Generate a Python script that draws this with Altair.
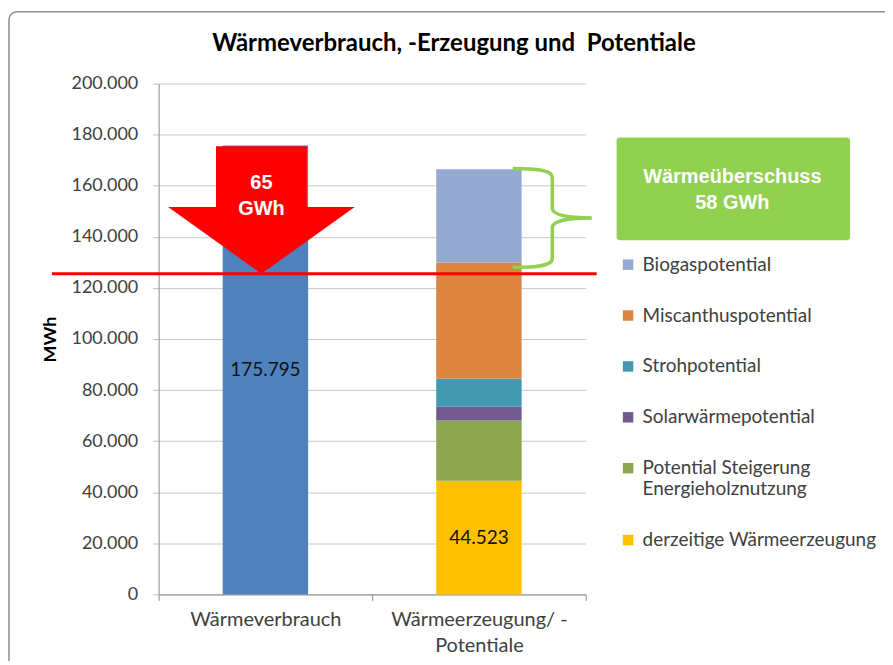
import altair as alt
import pandas as pd

# ---------------- data ----------------
categories = ["Wärmeverbrauch", "Wärmeerzeugung/ -\nPotentiale"]
consumption_value = [175795]
consumption_color = "#4F81BD"

# stacked series, bottom -> top
series_names = [
    "derzeitige Wärmeerzeugung",
    "Potential Steigerung Energieholznutzung",
    "Solarwärmepotential",
    "Strohpotential",
    "Miscanthuspotential",
    "Biogaspotential",
]
series_values = [44523, 23600, 5300, 11100, 45400, 36500]
series_colors = ["#FFC000", "#8BA64F", "#72598F", "#4299B0", "#DC853E", "#95AAD1"]

y_ticks = [0, 20000, 40000, 60000, 80000, 100000, 120000, 140000, 160000, 180000, 200000]

# annotations (in data units)
red_line_value = [125500]
arrow_center = [150500]
arrow_text_top = [161000]
arrow_text = ["65\nGWh"]
surplus_text = ["Wärmeüberschuss\n58 GWh"]
chart_title = "Wärmeverbrauch, -Erzeugung und\u00a0 Potentiale"

# ---------------- tables ----------------
stack_df = pd.DataFrame({
    "cat": [categories[1]] * len(series_names),
    "series": series_names,
    "value": series_values,
    "order": list(range(len(series_names))),
})
cons_df = pd.DataFrame({"cat": [categories[0]], "value": consumption_value})
label_df = pd.DataFrame({"cat": categories, "value": [consumption_value[0], series_values[0]]})
arrow_df = pd.DataFrame({"cat": [categories[0]], "y": arrow_center, "ty": arrow_text_top, "txt": arrow_text})
brace_center = sum(series_values[:-1]) + series_values[-1] / 2
brace_df = pd.DataFrame({"cat": [categories[1]], "y": [brace_center]})
line_df = pd.DataFrame({"y": red_line_value})
box_df = pd.DataFrame({"txt": surplus_text})

legend_order = series_names[::-1]
legend_colors = series_colors[::-1]

FONT = "Lato"
x_scale = alt.Scale(domain=categories, paddingInner=0, paddingOuter=0)
y_scale = alt.Scale(domain=[0, 200000], nice=False)

x_axis = alt.Axis(
    labelExpr="split(datum.label, '\\n')", labelAngle=0, tickBand="extent",
    tickSize=6, labelPadding=9, labelLineHeight=26, grid=False,
    labelFont=FONT, labelFontSize=20, labelColor="#404040",
    domainColor="#8C8C8C", tickColor="#8C8C8C",
)
y_axis = alt.Axis(
    values=y_ticks, labelExpr="replace(format(datum.value, ','), ',', '.')",
    tickSize=6, labelPadding=15, labelFont=FONT, labelFontSize=18, labelColor="#404040",
    domainColor="#8C8C8C", tickColor="#BFBFBF", gridColor="#C8C8C8", grid=True,
    titleFont=FONT, titleFontSize=18, titleFontWeight="bold", titleColor="#000000",
    titlePadding=12,
)


def X(field):
    return alt.X(field, scale=x_scale, axis=x_axis, title=None)


def Y(field, **kw):
    return alt.Y(field, scale=y_scale, axis=y_axis, title="MWh", **kw)


ARROW = "M-0.487,-0.684 L0.487,-0.684 L0.487,-0.032 L1,-0.032 L0,0.684 L-1,-0.032 L-0.487,-0.032 Z"
BRACE = ("M-0.8,-1 C-0.3,-1 0,-0.97 0,-0.82 L0,-0.2 C0,-0.06 0.3,0 0.8,0 "
         "M0.8,0 C0.3,0 0,0.06 0,0.2 L0,0.82 C0,0.97 -0.3,1 -0.8,1")

frame = alt.Chart(box_df).mark_rect(
    fill="transparent", stroke="#8C8C8C", strokeWidth=1.5, cornerRadius=8
).encode(x=alt.value(-150), x2=alt.value(760), y=alt.value(-72), y2=alt.value(620))

cons_bar = alt.Chart(cons_df).mark_bar(width=alt.RelativeBandSize(0.4), color=consumption_color).encode(
    x=X("cat:N"), y=Y("value:Q"),
)

stack_bar = alt.Chart(stack_df).mark_bar(width=alt.RelativeBandSize(0.4)).encode(
    x=X("cat:N"),
    y=Y("value:Q", stack="zero"),
    color=alt.Color(
        "series:N",
        scale=alt.Scale(domain=legend_order, range=legend_colors),
        legend=alt.Legend(
            orient="none", legendX=461, legendY=172, title=None, padding=0,
            symbolType="square", symbolSize=110, symbolStrokeWidth=0,
            labelFont=FONT, labelFontSize=19, labelColor="#404040", labelOffset=5,
            rowPadding=31, labelLimit=400,
            labelExpr="datum.label == 'Potential Steigerung Energieholznutzung' ? ['Potential Steigerung', 'Energieholznutzung'] : datum.label",
        ),
    ),
    order=alt.Order("order:Q", sort="ascending"),
)

labels = alt.Chart(label_df).transform_calculate(
    mid="datum.value / 2",
    txt="replace(format(datum.value, ','), ',', '.')",
).mark_text(font=FONT, fontSize=19, color="#111111").encode(
    x=X("cat:N"), y=Y("mid:Q"), text="txt:N",
)

red_line = alt.Chart(line_df).mark_rule(color="#FF0000", strokeWidth=3).encode(
    y=Y("y:Q"), x=alt.value(-107), x2=alt.value(439)
)

arrow = alt.Chart(arrow_df).mark_point(
    shape=ARROW, size=34969, filled=True, color="#FF0000", opacity=1, xOffset=-4
).encode(x=X("cat:N"), y=Y("y:Q"))

arrow_label = alt.Chart(arrow_df).mark_text(
    lineBreak="\n", font="Liberation Sans", fontWeight="bold", fontSize=20,
    color="white", lineHeight=26, xOffset=-4
).encode(x=X("cat:N"), y=Y("ty:Q"), text="txt:N")

brace = alt.Chart(brace_df).mark_point(
    shape=BRACE, size=9801, filled=False, color="#92D050", strokeWidth=3.5,
    opacity=1, xOffset=73.5, yOffset=2
).encode(x=X("cat:N"), y=Y("y:Q"))

box = alt.Chart(box_df).mark_rect(color="#92D050", cornerRadius=3).encode(
    x=alt.value(459), x2=alt.value(693), y=alt.value(54), y2=alt.value(157)
)
box_text = alt.Chart(box_df).mark_text(
    lineBreak="\n", font="Liberation Sans", fontWeight="bold", fontSize=20,
    color="white", lineHeight=26
).encode(x=alt.value(575), y=alt.value(94), text="txt:N")

chart = alt.layer(
    frame, cons_bar, stack_bar, labels, red_line, arrow, arrow_label, brace, box, box_text
).properties(
    width=428, height=512,
    padding={"left": 151, "top": 75, "right": 300, "bottom": 66},
    autosize=alt.AutoSizeParams(type="none"),
    title=alt.TitleParams(
        text=chart_title, font=FONT, fontSize=24, fontWeight="bold", color="#000000",
        anchor="middle", frame="group", dx=82, offset=-45,
    ),
).configure_view(stroke=None)

chart.save("out.html", embed_options={"renderer": "svg", "actions": False})
